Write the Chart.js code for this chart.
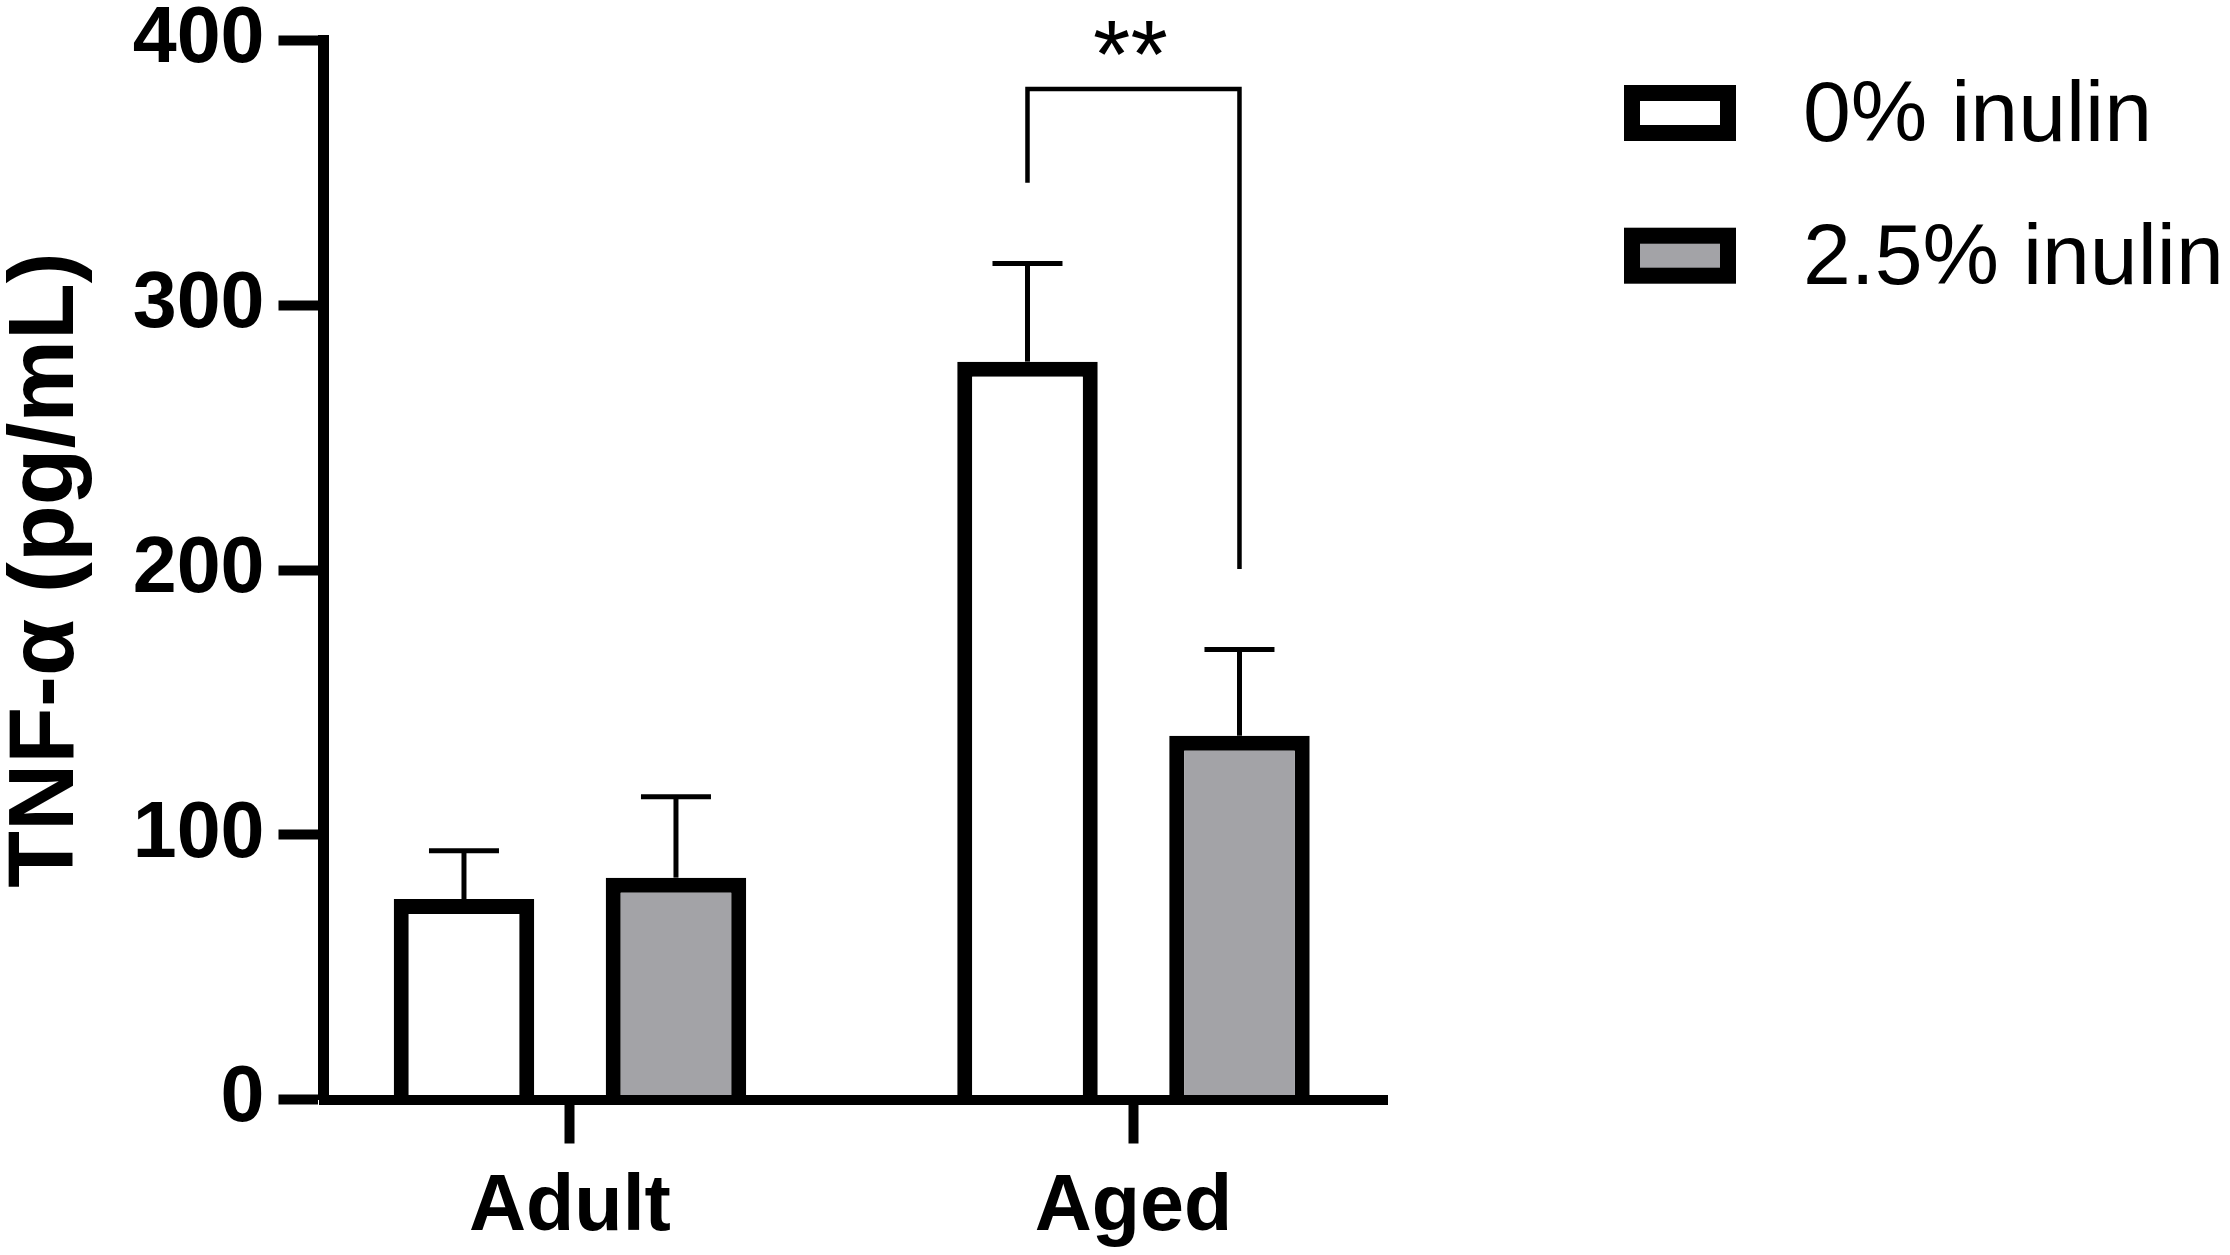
<!DOCTYPE html>
<html>
<head>
<meta charset="utf-8">
<script src="https://cdn.jsdelivr.net/npm/chart.js@4.4.1/dist/chart.umd.min.js"></script>
<style>
  html, body { margin: 0; padding: 0; background: #ffffff; }
  #wrap { position: relative; width: 2230px; height: 1255px; }
</style>
</head>
<body>
<div id="wrap"><canvas id="c"></canvas></div>
<script>
// ---- data ----
const categories = ['Adult', 'Aged'];
const seriesLabels = ['0% inulin', '2.5% inulin'];
const mean0 = [75.7, 278.7];     // 0% inulin
const sem0 = [18.3, 37.1];
const mean25 = [83.8, 137.4];    // 2.5% inulin
const sem25 = [30.6, 32.6];
const yTicks = [0, 100, 200, 300, 400];
const sigLabel = '**';
const sigBracket = [381.7, 346.3, 200.4]; // top, left end, right end (pg/mL)

const FONT = "'Liberation Sans', Arial, Helvetica, sans-serif";
const fillColors = ['#ffffff', '#a3a3a7'];

const toPoints = (arr) => arr.map((v, i) => ({ x: i, y: v }));

const errorBarPlugin = {
  id: 'errorBars',
  afterDatasetsDraw(chart) {
    const ctx = chart.ctx;
    const ys = chart.scales.y;
    const sems = [sem0, sem25];
    const means = [mean0, mean25];
    ctx.save();
    ctx.strokeStyle = '#000';
    ctx.lineCap = 'butt';
    chart.data.datasets.forEach((ds, di) => {
      const meta = chart.getDatasetMeta(di);
      meta.data.forEach((bar, j) => {
        const x = bar.x;
        const yBar = bar.y;
        const yTop = ys.getPixelForValue(means[di][j] + sems[di][j]);
        ctx.lineWidth = 5;
        ctx.beginPath();
        ctx.moveTo(x, yBar);
        ctx.lineTo(x, yTop);
        ctx.stroke();
        ctx.beginPath();
        ctx.moveTo(x - 35, yTop);
        ctx.lineTo(x + 35, yTop);
        ctx.stroke();
      });
    });
    ctx.restore();
  }
};

const sigPlugin = {
  id: 'significance',
  afterDatasetsDraw(chart) {
    const ctx = chart.ctx;
    const ys = chart.scales.y;
    const xL = chart.getDatasetMeta(0).data[1].x;
    const xR = chart.getDatasetMeta(1).data[1].x;
    const yT = ys.getPixelForValue(sigBracket[0]);
    const yL = ys.getPixelForValue(sigBracket[1]);
    const yR = ys.getPixelForValue(sigBracket[2]);
    ctx.save();
    ctx.strokeStyle = '#000';
    ctx.lineWidth = 4.5;
    ctx.lineJoin = 'miter';
    ctx.beginPath();
    ctx.moveTo(xL, yL);
    ctx.lineTo(xL, yT);
    ctx.lineTo(xR, yT);
    ctx.lineTo(xR, yR);
    ctx.stroke();
    ctx.fillStyle = '#000';
    ctx.font = '96px ' + FONT;
    ctx.textAlign = 'center';
    ctx.textBaseline = 'alphabetic';
    ctx.fillText(sigLabel, (xL + xR) / 2 - 3, yT - 2);
    ctx.restore();
  }
};

const legendPlugin = {
  id: 'customLegend',
  afterDraw(chart, args, opts) {
    const ctx = chart.ctx;
    ctx.save();
    chart.data.datasets.forEach((ds, i) => {
      const x = opts.x, y = opts.y + i * opts.rowGap;
      ctx.fillStyle = ds.borderColor;
      ctx.fillRect(x, y, opts.boxW, opts.boxH);
      ctx.fillStyle = ds.backgroundColor;
      ctx.fillRect(x + opts.border, y + opts.border, opts.boxW - 2 * opts.border, opts.boxH - 2 * opts.border);
      ctx.fillStyle = '#000';
      ctx.font = opts.fontSize + 'px ' + FONT;
      ctx.textAlign = 'left';
      ctx.textBaseline = 'alphabetic';
      ctx.fillText(ds.label, opts.textX, y + opts.boxH);
    });
    ctx.restore();
  }
};

new Chart(document.getElementById('c'), {
  type: 'bar',
  data: {
    datasets: [
      {
        label: seriesLabels[0],
        data: toPoints(mean0),
        backgroundColor: fillColors[0],
        borderColor: '#000000',
        borderWidth: 15,
        borderSkipped: 'start',
        categoryPercentage: 0.7524,
        barPercentage: 0.6627
      },
      {
        label: seriesLabels[1],
        data: toPoints(mean25),
        backgroundColor: fillColors[1],
        borderColor: '#000000',
        borderWidth: 15,
        borderSkipped: 'start',
        categoryPercentage: 0.7524,
        barPercentage: 0.6627
      }
    ]
  },
  options: {
    responsive: true,
    maintainAspectRatio: false,
    devicePixelRatio: 1,
    animation: false,
    events: [],
    layout: { padding: { top: 40.5, right: 843, bottom: 0, left: 0 } },
    plugins: {
      legend: { display: false },
      tooltip: { enabled: false },
      customLegend: { x: 1624, y: 85, rowGap: 142.7, boxW: 112, boxH: 56, border: 16, textX: 1803, fontSize: 86 }
    },
    scales: {
      x: {
        type: 'linear',
        min: -0.4374,
        max: 1.4499,
        offset: false,
        grid: { offset: false, drawOnChartArea: false, drawTicks: true, tickLength: 44, tickWidth: 10, tickColor: '#000', lineWidth: 1 },
        border: { display: true, width: 10, color: '#000', z: 1 },
        afterBuildTicks: (scale) => { scale.ticks = categories.map((c, i) => ({ value: i })); },
        afterFit: (scale) => { scale.height = 155.5; scale.paddingLeft = 0; scale.paddingRight = 0; },
        ticks: {
          callback: (v) => categories[v],
          color: '#000',
          padding: 25,
          maxRotation: 0,
          font: { family: FONT, size: 79, weight: 'bold', lineHeight: 1 }
        }
      },
      y: {
        type: 'linear',
        min: 0,
        max: 400,
        afterBuildTicks: (scale) => { scale.ticks = yTicks.map(v => ({ value: v })); },
        afterFit: (scale) => { scale.width = 323.5; scale.paddingTop = 0; scale.paddingBottom = 0; },
        grid: { drawOnChartArea: false, drawTicks: true, tickLength: 45, tickWidth: 10, tickColor: '#000', lineWidth: 1 },
        border: { display: true, width: 11, color: '#000' },
        ticks: {
          color: '#000',
          padding: 14,
          font: { family: FONT, size: 79, weight: 'bold', lineHeight: 1 }
        },
        title: {
          display: true,
          text: 'TNF-α (pg/mL)',
          color: '#000',
          padding: { top: 1, bottom: 0 },
          font: { family: FONT, size: 93, weight: 'bold', lineHeight: 1 }
        }
      }
    }
  },
  plugins: [errorBarPlugin, sigPlugin, legendPlugin]
});
</script>
</body>
</html>
